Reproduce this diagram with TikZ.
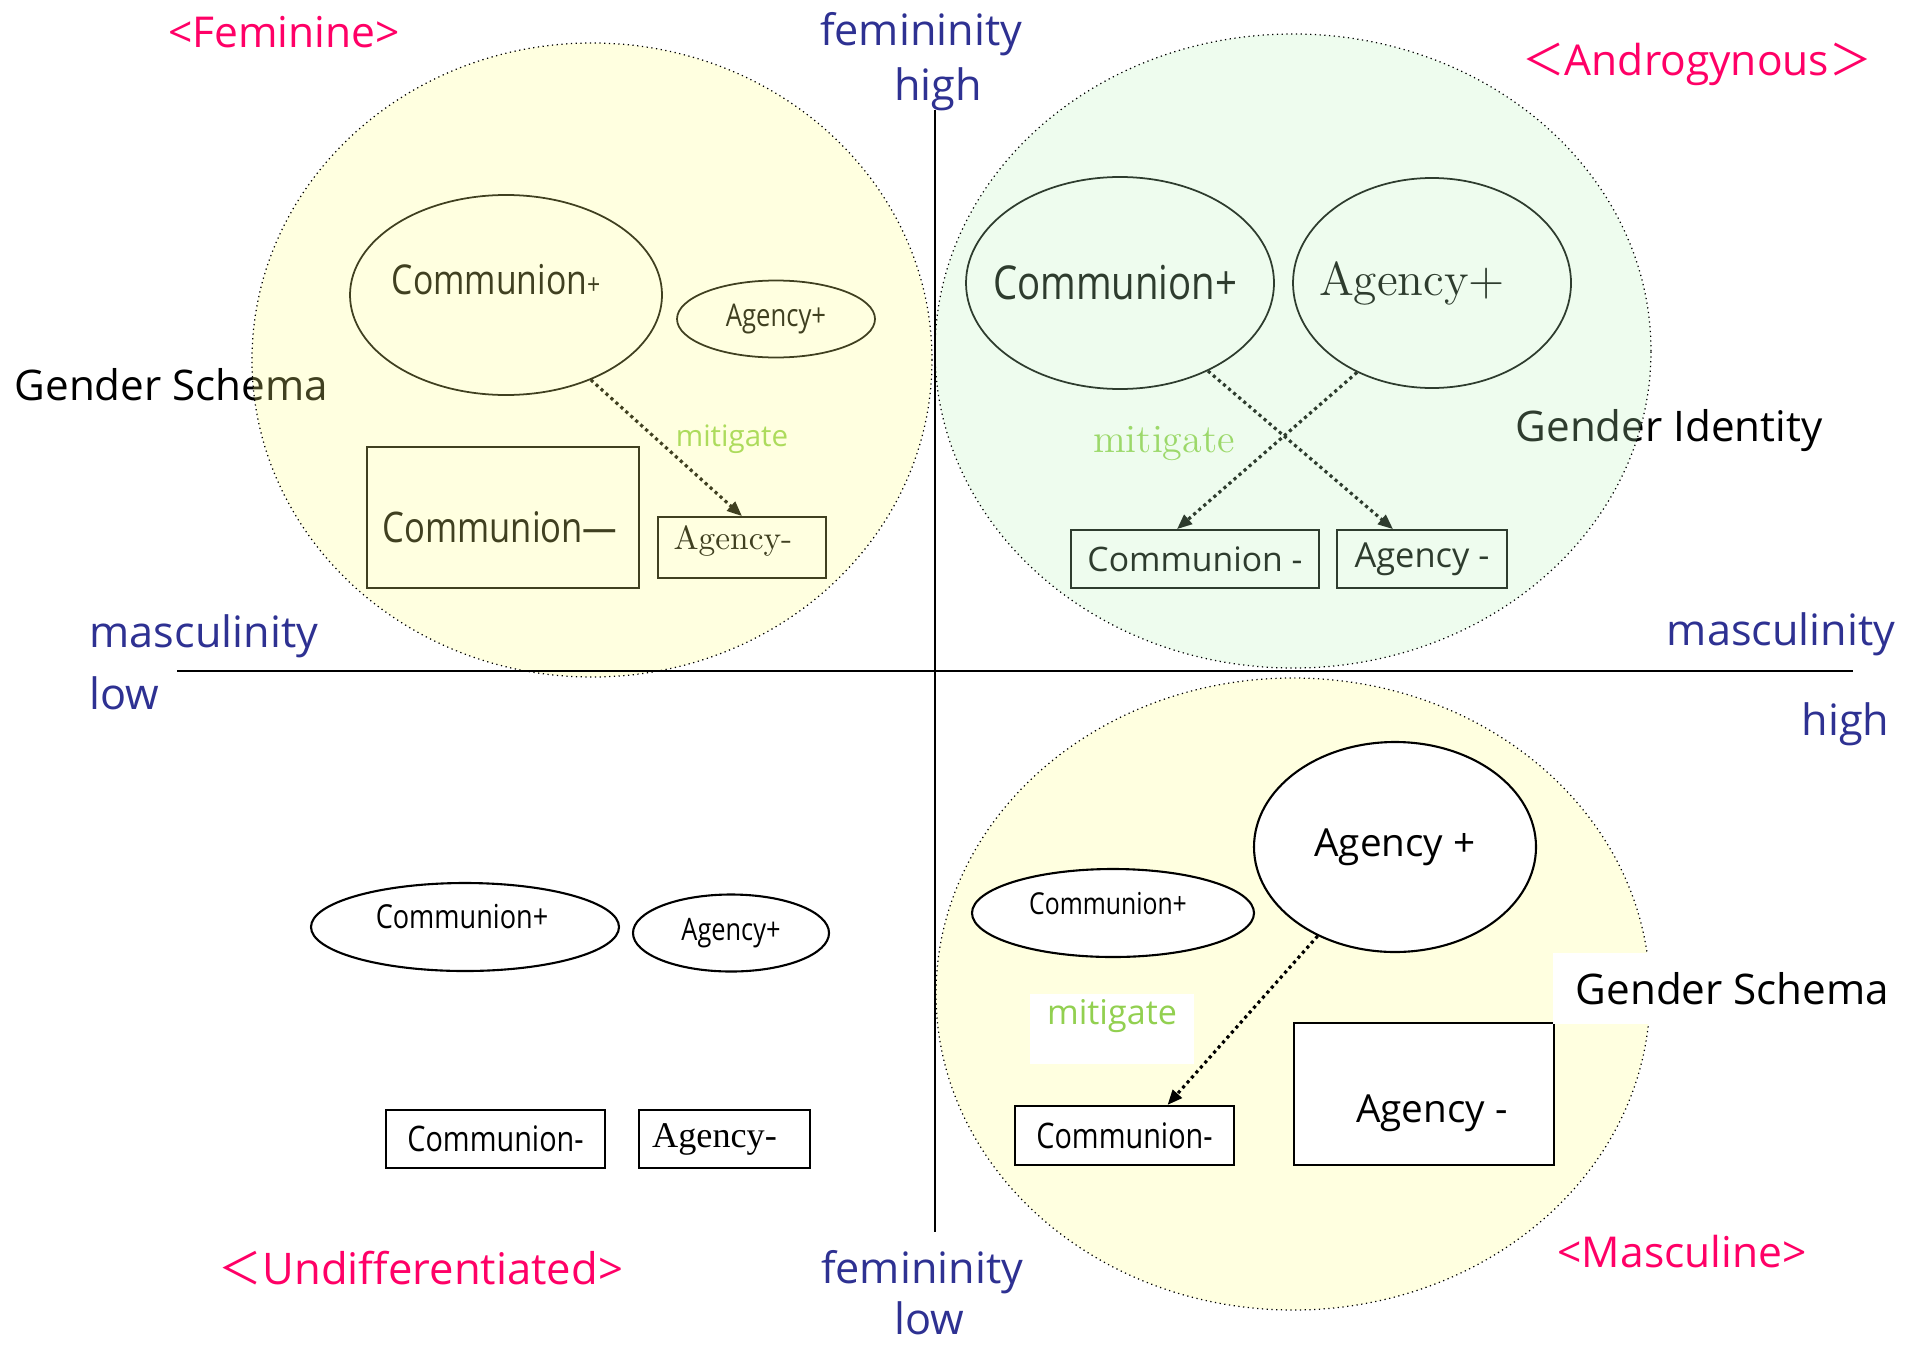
\documentclass[tikz,border=0pt]{standalone}
\usepackage{fontspec}
\newfontfamily\sansfont{Open Sans}
\newfontfamily\narrowfont{Open Sans}[FakeStretch=0.82]
\newfontfamily\cjkfont{Noto Sans CJK KR}
\newfontfamily\timesfont{Liberation Serif}
\usetikzlibrary{shapes.geometric,arrows.meta}

\definecolor{axisblue}{RGB}{46,49,146}
\definecolor{typepink}{RGB}{255,0,102}
\definecolor{mitigreen}{RGB}{146,208,80}
\definecolor{femfill}{RGB}{255,255,131}
\definecolor{andfill}{RGB}{187,243,187}
\definecolor{mascfill}{RGB}{255,255,224}
\newcommand{\fsz}[1]{\fontsize{#1}{#1}\selectfont}

\begin{document}
\begin{tikzpicture}

      \tikzset{axislabel/.style={text=axisblue, font=\sansfont\fsz{12.3}, inner sep=0pt},
               typelabel/.style={text=typepink, font=\sansfont\fsz{12.1}, inner sep=0pt},
               schemalabel/.style={font=\sansfont\fsz{12}, inner sep=0pt},
               group/.style={draw, ellipse, inner sep=0pt, line width=0.35pt, densely dotted},
               oval/.style={draw, ellipse, inner sep=0pt, line width=0.5pt},
               item/.style={draw, rectangle, inner sep=0pt, line width=0.5pt},
               mitigates/.style={densely dotted, line width=0.9pt, -{Triangle[length=1.5mm,width=1.2mm]}},
               mitlabel/.style={text=mitigreen, inner sep=0pt}}
      \useasboundingbox (0,0) rectangle (19.12,13.44);
% Labels under the groups
      	\node[schemalabel, anchor=west] (schemaF) at (0.14,9.59) {Gender Schema};
      	\node[schemalabel, anchor=west] (identA) at (15.15,9.13) {Gender Identity};
% Feminine
      	\node[oval, minimum width=3.12cm, minimum height=2.00cm,
      	      label={[font=\narrowfont\fsz{11.7}, xshift=-1mm, yshift=1.5mm]center:Communion{\fsz{8}+}}] (fcp) at (5.06,10.49) {};
      	\node[oval, minimum width=1.98cm, minimum height=0.77cm, font=\narrowfont\fsz{8.9}] (fap) at (7.76,10.25) {Agency+};
    	\node[item, minimum width=2.72cm, minimum height=1.41cm,
    	      label={[font=\narrowfont\fsz{12}, xshift=-0.3mm, yshift=-1mm]center:Communion—}] (fcm) at (5.03,8.265) {};
  	    \node[item, minimum width=1.68cm, minimum height=0.61cm,
  	          label={[font=\fsz{9.5}, xshift=-0.9mm, yshift=0.7mm]center:Agency-}] (fam) at (7.42,7.965) {};
  	    \node[mitlabel, font=\sansfont\fsz{8.4}] (fmit) at (7.32,9.05) {mitigate};
		\draw[mitigates] (fcp.-45) -- (fam.north);
% Androgynous
      	\node[oval, minimum width=3.08cm, minimum height=2.12cm,
      	      label={[font=\narrowfont\fsz{13.3}, xshift=-0.5mm]center:Communion+}] (acp) at (11.20,10.61) {};
      	\node[oval, minimum width=2.78cm, minimum height=2.10cm,
      	      label={[font=\fsz{13.5}, xshift=-2mm]center:Agency+}] (aap) at (14.32,10.61) {};
    	\node[item, minimum width=2.48cm, minimum height=0.58cm, font=\sansfont\fsz{9.6}] (acm) at (11.95,7.85) {Communion -};
  	    \node[item, minimum width=1.70cm, minimum height=0.58cm, font=\sansfont\fsz{9.8}] (aam) at (14.22,7.85) {Agency -};
  	    \node[mitlabel, font=\fsz{11.4}] (amit) at (11.64,9.00) {mitigate};
		\draw[mitigates] (acp.-45) -- ([xshift=-2.9mm]aam.north);
		\draw[mitigates] (aap.-130) -- ([xshift=-1.8mm]acm.north);
% Groups
		\node[group, fill=femfill, fill opacity=0.25, minimum width=6.80cm, minimum height=6.34cm] (fem) at (5.92,9.84) {};
		\node[group, fill=andfill, fill opacity=0.25, minimum width=7.16cm, minimum height=6.34cm] (andr) at (12.93,9.93) {};
		\node[group, fill=mascfill, minimum width=7.14cm, minimum height=6.32cm] (masc) at (12.93,3.50) {};
% Masculine
      	\node[oval, fill=white, line width=0.6pt, minimum width=2.82cm, minimum height=2.10cm, font=\sansfont\fsz{11}] (mapl) at (13.95,4.97) {Agency +};
      	\node[oval, fill=white, line width=0.6pt, minimum width=2.82cm, minimum height=0.88cm,
      	      label={[font=\narrowfont\fsz{8.6}, xshift=-0.5mm, yshift=0.9mm]center:Communion+}] (mcp) at (11.13,4.31) {};
    	\node[item, fill=white, line width=0.6pt, minimum width=2.19cm, minimum height=0.59cm, font=\narrowfont\fsz{10}] (mcm) at (11.245,2.085) {Communion-};
  	    \node[item, fill=white, line width=0.6pt, minimum width=2.60cm, minimum height=1.42cm,
  	          label={[font=\sansfont\fsz{11}, xshift=0.8mm, yshift=-1.9mm]center:Agency -}] (mam) at (14.24,2.50) {};
  	    \node[mitlabel, fill=white, font=\sansfont\fsz{9.7}, minimum width=1.64cm, text height=0.30cm, text depth=0.40cm] (mmit) at (11.12,3.15) {mitigate};
  	    \node[schemalabel, fill=white, minimum width=3.59cm, minimum height=0.71cm] (schemaM) at (17.325,3.555) {Gender Schema};
		\draw[mitigates] (mapl.-131) -- ([xshift=4.3mm]mcm.north);
% Undifferentiated
      	\node[oval, line width=0.6pt, minimum width=3.08cm, minimum height=0.88cm,
      	      label={[font=\narrowfont\fsz{9.4}, xshift=-0.3mm, yshift=1mm]center:Communion+}] (ucp) at (4.65,4.17) {};
      	\node[oval, line width=0.6pt, minimum width=1.96cm, minimum height=0.77cm, font=\narrowfont\fsz{8.8}] (uap) at (7.31,4.11) {Agency+};
    	\node[item, line width=0.6pt, minimum width=2.19cm, minimum height=0.58cm, font=\narrowfont\fsz{10}] (ucm) at (4.955,2.05) {Communion-};
  	    \node[item, line width=0.6pt, minimum width=1.71cm, minimum height=0.58cm,
  	          label={[font=\timesfont\fsz{10.3}, xshift=-1mm]center:Agency-}] (uam) at (7.245,2.05) {};
% Axes
		\coordinate (ftop) at (9.35,12.34);
		\coordinate (fbot) at (9.35,1.12);
		\coordinate (mlow) at (1.77,6.73);
		\coordinate (mhigh) at (18.53,6.73);
		\draw[line width=0.75pt] (ftop) -- (fbot);
		\draw[line width=0.75pt] (mlow) -- (mhigh);
      	\node[axislabel] (femT) at (9.21,13.10) {femininity};
      	\node[axislabel] (femTh) at (9.38,12.55) {high};
      	\node[axislabel] (femB) at (9.22,0.72) {femininity};
      	\node[axislabel] (femBl) at (9.29,0.26) {low};
      	\node[axislabel, anchor=west] (mascL) at (0.89,7.08) {masculinity};
      	\node[axislabel, anchor=west] (mascLl) at (0.89,6.51) {low};
      	\node[axislabel, anchor=east] (mascR) at (18.96,7.10) {masculinity};
      	\node[axislabel, anchor=east] (mascRh) at (18.90,6.20) {high};
% Types
      	\node[typelabel] (tfem) at (2.84,13.12) {<Feminine>};
      	\node[typelabel] (tandr) at (16.97,12.80) {{\cjkfont ＜}Androgynous{\cjkfont ＞}};
      	\node[typelabel, font=\sansfont\fsz{12.4}] (tundiff) at (4.21,0.76) {{\cjkfont ＜}Undifferentiated>};
      	\node[typelabel] (tmasc) at (16.82,0.92) {<Masculine>};

	\end{tikzpicture}
\end{document}
